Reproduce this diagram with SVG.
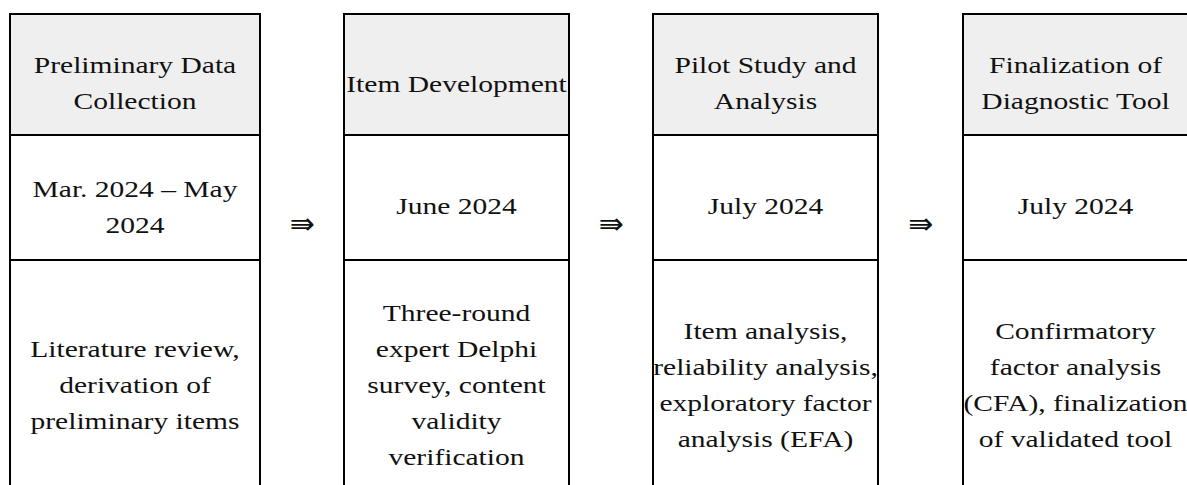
<svg xmlns="http://www.w3.org/2000/svg" width="1187" height="485" viewBox="0 0 1187 485">
  <style>
    .head { fill: #efefef; stroke: #000; stroke-width: 2; }
    .cell { fill: #ffffff; stroke: #000; stroke-width: 2; }
    .lbl { font-family: "Liberation Serif", "Times New Roman", serif; font-size: 24px; fill: #111; text-anchor: middle; }
    .arrow { font-family: "DejaVu Sans", sans-serif; font-size: 30px; fill: #111; text-anchor: middle; }
  </style>
  <rect width="1187" height="485" fill="#ffffff"/>

  <!-- Stage 1 -->
  <g id="stage-preliminary">
    <rect class="head" x="10" y="14" width="250" height="121"/>
    <rect class="cell" x="10" y="135" width="250" height="125"/>
    <rect class="cell" x="10" y="260" width="250" height="260"/>
    <g transform="translate(135 0) scale(1.23 1)" class="lbl">
      <text x="0" y="73">Preliminary Data</text>
      <text x="0" y="109">Collection</text>
      <text x="0" y="197">Mar. 2024 – May</text>
      <text x="0" y="233">2024</text>
      <text x="0" y="357">Literature review,</text>
      <text x="0" y="393">derivation of</text>
      <text x="0" y="429">preliminary items</text>
    </g>
  </g>

  <!-- Stage 2 -->
  <g id="stage-item-development">
    <rect class="head" x="344" y="14" width="225" height="121"/>
    <rect class="cell" x="344" y="135" width="225" height="125"/>
    <rect class="cell" x="344" y="260" width="225" height="260"/>
    <g transform="translate(456.5 0) scale(1.23 1)" class="lbl">
      <text x="0" y="92">Item Development</text>
      <text x="0" y="214">June 2024</text>
      <text x="0" y="321">Three-round</text>
      <text x="0" y="357">expert Delphi</text>
      <text x="0" y="393">survey, content</text>
      <text x="0" y="429">validity</text>
      <text x="0" y="465">verification</text>
    </g>
  </g>

  <!-- Stage 3 -->
  <g id="stage-pilot">
    <rect class="head" x="653" y="14" width="225" height="121"/>
    <rect class="cell" x="653" y="135" width="225" height="125"/>
    <rect class="cell" x="653" y="260" width="225" height="260"/>
    <g transform="translate(765.5 0) scale(1.23 1)" class="lbl">
      <text x="0" y="73">Pilot Study and</text>
      <text x="0" y="109">Analysis</text>
      <text x="0" y="214">July 2024</text>
      <text x="0" y="339">Item analysis,</text>
      <text x="0" y="375">reliability analysis,</text>
      <text x="0" y="411">exploratory factor</text>
      <text x="0" y="447">analysis (EFA)</text>
    </g>
  </g>

  <!-- Stage 4 -->
  <g id="stage-finalization">
    <rect class="head" x="963" y="14" width="225" height="121"/>
    <rect class="cell" x="963" y="135" width="225" height="125"/>
    <rect class="cell" x="963" y="260" width="225" height="260"/>
    <g transform="translate(1075.5 0) scale(1.23 1)" class="lbl">
      <text x="0" y="73">Finalization of</text>
      <text x="0" y="109">Diagnostic Tool</text>
      <text x="0" y="214">July 2024</text>
      <text x="0" y="339">Confirmatory</text>
      <text x="0" y="375">factor analysis</text>
      <text x="0" y="411">(CFA), finalization</text>
      <text x="0" y="447">of validated tool</text>
    </g>
  </g>

  <!-- Connectors between stages -->
  <g id="connectors" class="arrow">
    <text x="302" y="234">⇛</text>
    <text x="611" y="234">⇛</text>
    <text x="920.5" y="234">⇛</text>
  </g>
</svg>
